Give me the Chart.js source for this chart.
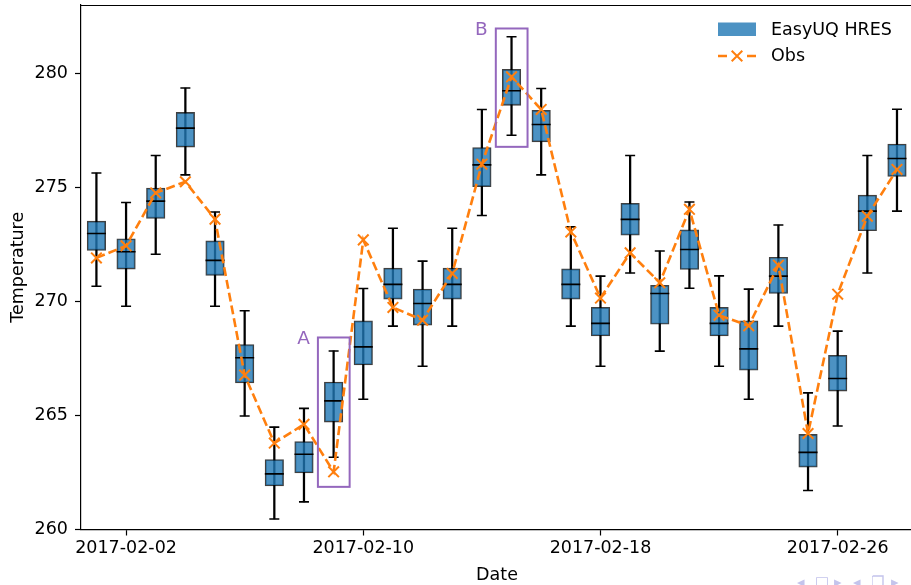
<!DOCTYPE html>
<html><head><meta charset="utf-8">
<script src="https://cdn.jsdelivr.net/npm/chart.js@4.4.1/dist/chart.umd.min.js"></script>
<style>
html,body{margin:0;padding:0;width:911px;height:585px;overflow:hidden;background:#fff;}
#wrap{position:relative;width:911px;height:585px;overflow:hidden;}
canvas{position:absolute;left:0;top:0;}
.nav{position:absolute;top:574px;font:15px 'DejaVu Sans';color:#c4c4ec;line-height:16px;}
</style></head><body>
<div id="wrap"><canvas id="c" width="914" height="585"></canvas>
<span class="nav" style="left:797px">◂</span><span class="nav" style="left:815px">□</span><span class="nav" style="left:834px">▸</span>
<span class="nav" style="left:853px">◂</span><span class="nav" style="left:871px">❐</span><span class="nav" style="left:891px">▸</span>
</div>
<script>
// ---- data ----
const dates = ['2017-02-01','2017-02-02','2017-02-03','2017-02-04','2017-02-05','2017-02-06','2017-02-07',
  '2017-02-08','2017-02-09','2017-02-10','2017-02-11','2017-02-12','2017-02-13','2017-02-14',
  '2017-02-15','2017-02-16','2017-02-17','2017-02-18','2017-02-19','2017-02-20','2017-02-21',
  '2017-02-22','2017-02-23','2017-02-24','2017-02-25','2017-02-26','2017-02-27','2017-02-28'];
const whiskerLow  = [270.67,269.79,272.07,275.55,269.79,264.98,260.46,261.21,263.17,265.71,268.92,267.16,268.92,273.77,
                     277.29,275.55,268.92,267.16,271.25,267.82,270.58,267.16,265.71,268.92,261.71,264.54,271.25,273.96];
const quartile1   = [272.24,271.42,273.64,276.77,271.14,266.43,261.91,262.48,264.71,267.22,270.10,268.96,270.10,275.03,
                     278.60,277.00,270.10,268.49,272.91,269.00,271.40,268.49,266.99,270.35,262.73,266.07,273.10,275.48];
const medians     = [272.98,272.18,274.40,277.60,271.80,267.53,262.44,263.30,265.64,268.01,270.75,269.91,270.75,275.99,
                     279.24,277.76,270.75,269.04,273.60,270.35,272.28,269.04,267.92,271.11,263.38,266.62,273.96,276.27];
const quartile3   = [273.52,272.75,274.97,278.29,272.66,268.11,263.07,263.86,266.47,269.15,271.46,270.54,271.46,276.75,
                     280.18,278.38,271.43,269.74,274.30,270.71,273.14,269.74,269.15,271.94,264.17,267.64,274.66,276.90];
const whiskerHigh = [275.63,274.34,276.40,279.36,273.92,269.59,264.49,265.31,267.83,270.57,273.21,271.77,273.21,278.42,
                     281.61,279.34,273.27,271.11,276.40,272.21,274.36,271.12,270.54,273.35,265.99,268.70,276.40,278.43];
const observed    = [271.91,272.44,274.76,275.25,273.61,266.77,263.79,264.61,262.53,272.70,269.74,269.18,271.23,276.02,
                     279.85,278.42,273.05,270.15,272.13,270.82,274.04,269.40,268.93,271.59,264.21,270.32,273.74,275.79];
const xTickDays   = [2, 10, 18, 26];
const xTickLabels = ['2017-02-02','2017-02-10','2017-02-18','2017-02-26'];
const yTicks      = [260, 265, 270, 275, 280];
const highlightLabels = ['A', 'B'];
const highlightDay    = [9, 15];
const highlightLow    = [261.87, 276.78];
const highlightHigh   = [268.42, 281.97];
const seriesNames = ['EasyUQ HRES', 'Obs'];

// ---- build ----
const FONT = "'DejaVu Sans'";
Chart.defaults.font.family = FONT;
Chart.defaults.font.size = 17.5;
Chart.defaults.color = '#000';
const dayOf = d => Number(d.slice(8));
const pts = arr => dates.map((d, i) => ({x: dayOf(d), y: arr[i]}));
const rng = (a, b) => dates.map((d, i) => ({x: dayOf(d), y: [a[i], b[i]]}));
const BLUE = 'rgba(31,119,180,0.8)';
const ORANGE = '#ff7f0e';
const PURPLE = '#9467bd';

const overlay = {
  id: 'overlay',
  afterDatasetsDraw(chart) {
    const {ctx, chartArea: a, scales: {x, y}} = chart;
    ctx.save();
    ctx.strokeStyle = '#000'; ctx.lineWidth = 1.2;
    ctx.beginPath(); ctx.moveTo(a.left, a.top + 0.5); ctx.lineTo(a.right, a.top + 0.5); ctx.stroke();
    ctx.strokeStyle = PURPLE; ctx.lineWidth = 2;
    ctx.fillStyle = PURPLE; ctx.font = "18.5px " + FONT;
    ctx.textAlign = 'right'; ctx.textBaseline = 'middle';
    highlightLabels.forEach((lab, i) => {
      const x0 = x.getPixelForValue(highlightDay[i] - 0.53), x1 = x.getPixelForValue(highlightDay[i] + 0.54);
      const y0 = y.getPixelForValue(highlightHigh[i]), y1 = y.getPixelForValue(highlightLow[i]);
      ctx.strokeRect(x0, y0, x1 - x0, y1 - y0);
      ctx.fillText(lab, x0 - 8, y0 + 2);
    });
    ctx.restore();
  },
  afterDraw(chart) {
    const {ctx} = chart;
    ctx.save();
    ctx.fillStyle = BLUE;
    ctx.fillRect(718, 22.5, 38, 13.5);
    ctx.fillStyle = '#000'; ctx.font = "17.5px " + FONT;
    ctx.textAlign = 'left'; ctx.textBaseline = 'middle';
    ctx.fillText(seriesNames[0], 771, 30);
    ctx.fillText(seriesNames[1], 771, 56);
    ctx.strokeStyle = ORANGE; ctx.lineWidth = 2.5;
    ctx.beginPath(); ctx.moveTo(718, 56); ctx.lineTo(727, 56); ctx.moveTo(747, 56); ctx.lineTo(756, 56); ctx.stroke();
    ctx.lineWidth = 2;
    Chart.helpers.drawPoint(ctx, {pointStyle: 'crossRot', radius: 7.5, borderWidth: 2}, 737, 56);
    ctx.restore();
  }
};

new Chart(document.getElementById('c'), {
  type: 'bar',
  data: {
    datasets: [
      {type: 'line', data: pts(observed), borderColor: ORANGE, borderWidth: 2.6, borderDash: [9, 4],
       pointStyle: 'crossRot', pointRadius: 7.5, pointBorderWidth: 2, pointBorderColor: ORANGE,
       pointBackgroundColor: ORANGE, tension: 0, fill: false, order: 1},
      {type: 'line', data: pts(medians), showLine: false, pointStyle: 'line', pointRadius: 9.5,
       pointBorderWidth: 1.6, pointBorderColor: '#000', order: 2},
      {type: 'line', data: pts(whiskerLow), showLine: false, pointStyle: 'line', pointRadius: 5,
       pointBorderWidth: 1.6, pointBorderColor: '#000', order: 2},
      {type: 'line', data: pts(whiskerHigh), showLine: false, pointStyle: 'line', pointRadius: 5,
       pointBorderWidth: 1.6, pointBorderColor: '#000', order: 2},
      {type: 'bar', data: rng(quartile1, quartile3), backgroundColor: BLUE, borderColor: 'rgba(0,0,0,0.75)',
       borderWidth: 1.3, borderSkipped: false, barThickness: 18.5, grouped: false, order: 3},
      {type: 'bar', data: rng(whiskerLow, whiskerHigh), backgroundColor: '#000', borderWidth: 0,
       barThickness: 1.6, grouped: false, order: 4}
    ]
  },
  options: {
    responsive: false, animation: false,
    layout: {autoPadding: false, padding: {top: 5, right: 1, left: 0, bottom: 0}},
    plugins: {legend: {display: false}, tooltip: {enabled: false}},
    scales: {
      x: {
        type: 'linear', min: 0.48, max: 28.54, offset: false,
        afterBuildTicks: s => { s.ticks = xTickDays.map(v => ({value: v})); },
        afterFit: s => { s.height = 55.5; s.paddingLeft = 0; s.paddingRight = 0; },
        ticks: {padding: 2, maxRotation: 0, autoSkip: false,
          callback: (v) => xTickLabels[xTickDays.indexOf(v)]},
        grid: {drawOnChartArea: false, offset: false, tickLength: 6, tickColor: '#000', tickWidth: 1.2},
        border: {display: true, color: '#000', width: 1.2},
        title: {display: true, text: 'Date', font: {lineHeight: 1.1}, padding: {top: 0, bottom: 0}}
      },
      y: {
        type: 'linear', min: 260, max: 283,
        afterBuildTicks: s => { s.ticks = yTicks.map(v => ({value: v})); },
        afterFit: s => { s.width = 81; s.paddingTop = 0; s.paddingBottom = 0; },
        ticks: {padding: 7},
        grid: {drawOnChartArea: false, tickLength: 6, tickColor: '#000', tickWidth: 1.2},
        border: {display: true, color: '#000', width: 1.2},
        title: {display: true, text: 'Temperature', padding: {top: 8, bottom: 4}}
      }
    }
  },
  plugins: [overlay]
});
</script>
</body></html>
